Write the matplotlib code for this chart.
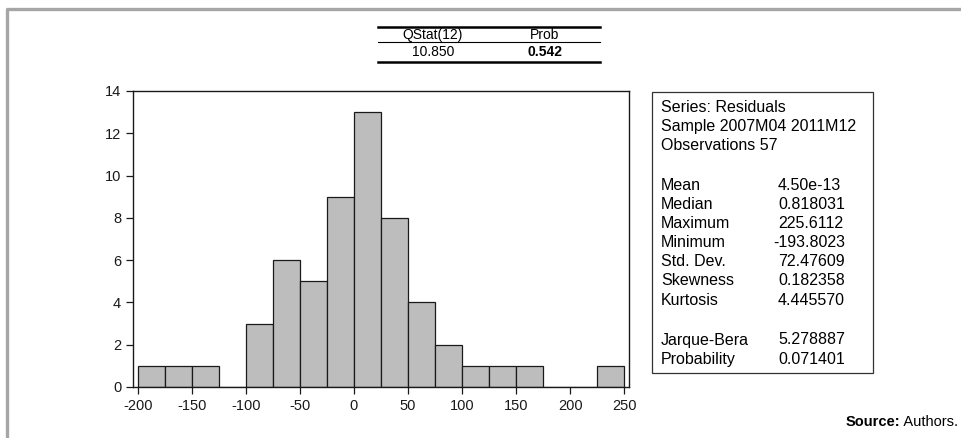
import numpy as np
import matplotlib.pyplot as plt
from matplotlib.lines import Line2D
from matplotlib.patches import Rectangle

plt.rcParams['font.family'] = ['Liberation Sans', 'DejaVu Sans']
plt.rcParams['axes.unicode_minus'] = False

# histogram of residuals (bin width 25)
bin_left = np.arange(-200, 250, 25)
counts = [1, 1, 1, 0, 3, 6, 5, 9, 13, 8, 4, 2, 1, 1, 1, 0, 0, 1]

# descriptive statistics box
stat_header = ['Series: Residuals', 'Sample 2007M04 2011M12', 'Observations 57']
stat_names = ['Mean', 'Median', 'Maximum', 'Minimum', 'Std. Dev.', 'Skewness', 'Kurtosis']
stat_values = ['4.50e-13', '0.818031', '225.6112', '-193.8023', '72.47609', '0.182358', '4.445570']
test_names = ['Jarque-Bera', 'Probability']
test_values = ['5.278887', '0.071401']

# small Q-stat table on top
q_cols = ['QStat(12)', 'Prob']
q_vals = ['10.850', '0.542']

W, H = 962, 438
fig = plt.figure(figsize=(W / 100, H / 100), dpi=100)

def fx(px):
    return px / W

def fy(py):
    return 1 - py / H

# gray frame on left and top
fig.add_artist(Line2D([fx(7), fx(7), 1], [0, fy(8.5), fy(8.5)], color='#a6a6a6', lw=2.4))

ax = fig.add_axes([fx(133), fy(387), fx(629) - fx(133), fy(91) - fy(387)])
ax.bar(bin_left, counts, width=25, align='edge', color='#bdbdbd', edgecolor='#1a1a1a', linewidth=0.9)
ax.set_xlim(-204.5, 254.5)
ax.set_ylim(0, 14)
ax.set_xticks(np.arange(-200, 251, 50))
ax.set_yticks(np.arange(0, 15, 2))
ax.tick_params(direction='out', length=5, width=0.9, labelsize=10.5, colors='#1a1a1a')
for s in ax.spines.values():
    s.set_linewidth(1.0)
    s.set_color('#1a1a1a')

# stats box
fig.add_artist(Rectangle((fx(652), fy(373)), fx(873) - fx(652), fy(92) - fy(373),
                         fill=False, edgecolor='#333333', lw=0.9))
y = 107
for line in stat_header:
    fig.text(fx(661), fy(y), line, fontsize=11.5, va='center', ha='left')
    y += 19.5
y = 185
for name, val in zip(stat_names, stat_values):
    fig.text(fx(661), fy(y), name, fontsize=11.5, va='center', ha='left')
    fig.text(fx(778) if not val.startswith('-') else fx(773), fy(y), val, fontsize=11.5, va='center', ha='left')
    y += 19.2
y = 340
for name, val in zip(test_names, test_values):
    fig.text(fx(661), fy(y), name, fontsize=11.5, va='center', ha='left')
    fig.text(fx(778), fy(y), val, fontsize=11.5, va='center', ha='left')
    y += 19.2

# Q-stat table
fig.add_artist(Line2D([fx(378), fx(600)], [fy(27), fy(27)], color='black', lw=1.8))
fig.add_artist(Line2D([fx(378), fx(600)], [fy(41.5), fy(41.5)], color='black', lw=0.8))
fig.add_artist(Line2D([fx(378), fx(600)], [fy(62), fy(62)], color='black', lw=1.8))
col_x = [433, 545]
for cx, head, val in zip(col_x, q_cols, q_vals):
    fig.text(fx(cx), fy(35), head, fontsize=10, ha='center', va='center')
    fig.text(fx(cx), fy(52), val, fontsize=10, ha='center', va='center',
             fontweight='bold' if head == 'Prob' else 'normal')

# source note
t = fig.text(fx(958), fy(422), ' Authors.', fontsize=10.5, ha='right', va='center')
fig.canvas.draw()
bb = t.get_window_extent()
fig.text(bb.x0 / W, fy(422), 'Source:', fontsize=10.5, fontweight='bold', ha='right', va='center')

fig.savefig('out.png', dpi=100)
